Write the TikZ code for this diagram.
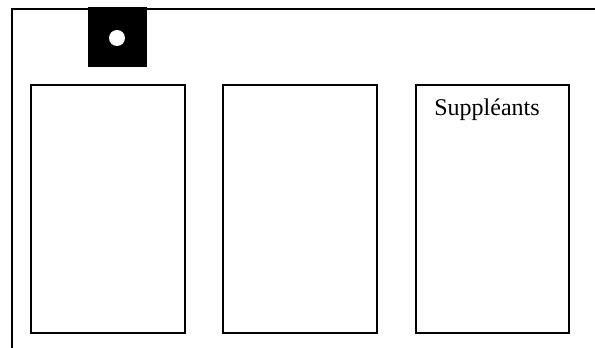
\documentclass[tikz,border=0pt]{standalone}
\usepackage{fontspec}
\setmainfont{Liberation Serif}
\begin{document}
\begin{tikzpicture}[x=.5pt,y=.5pt,line width=1pt]
\useasboundingbox (0,0) rectangle (595,348);
\coordinate (O) at (12,0);
\coordinate (C) at (12,339);
\coordinate (E) at (595,339);
\draw[line width=1.2pt] (O)--(C)--(E);
\fill (88,281) rectangle (147,341);
\fill[white] (117,310) circle (8);
\draw (31,15) rectangle (185,263);
\draw (223,15) rectangle (377,263);
\draw (416,15) rectangle (569,263);
\node[font=\large] (s) at (487,238) {Suppléants};
\end{tikzpicture}
\end{document}
